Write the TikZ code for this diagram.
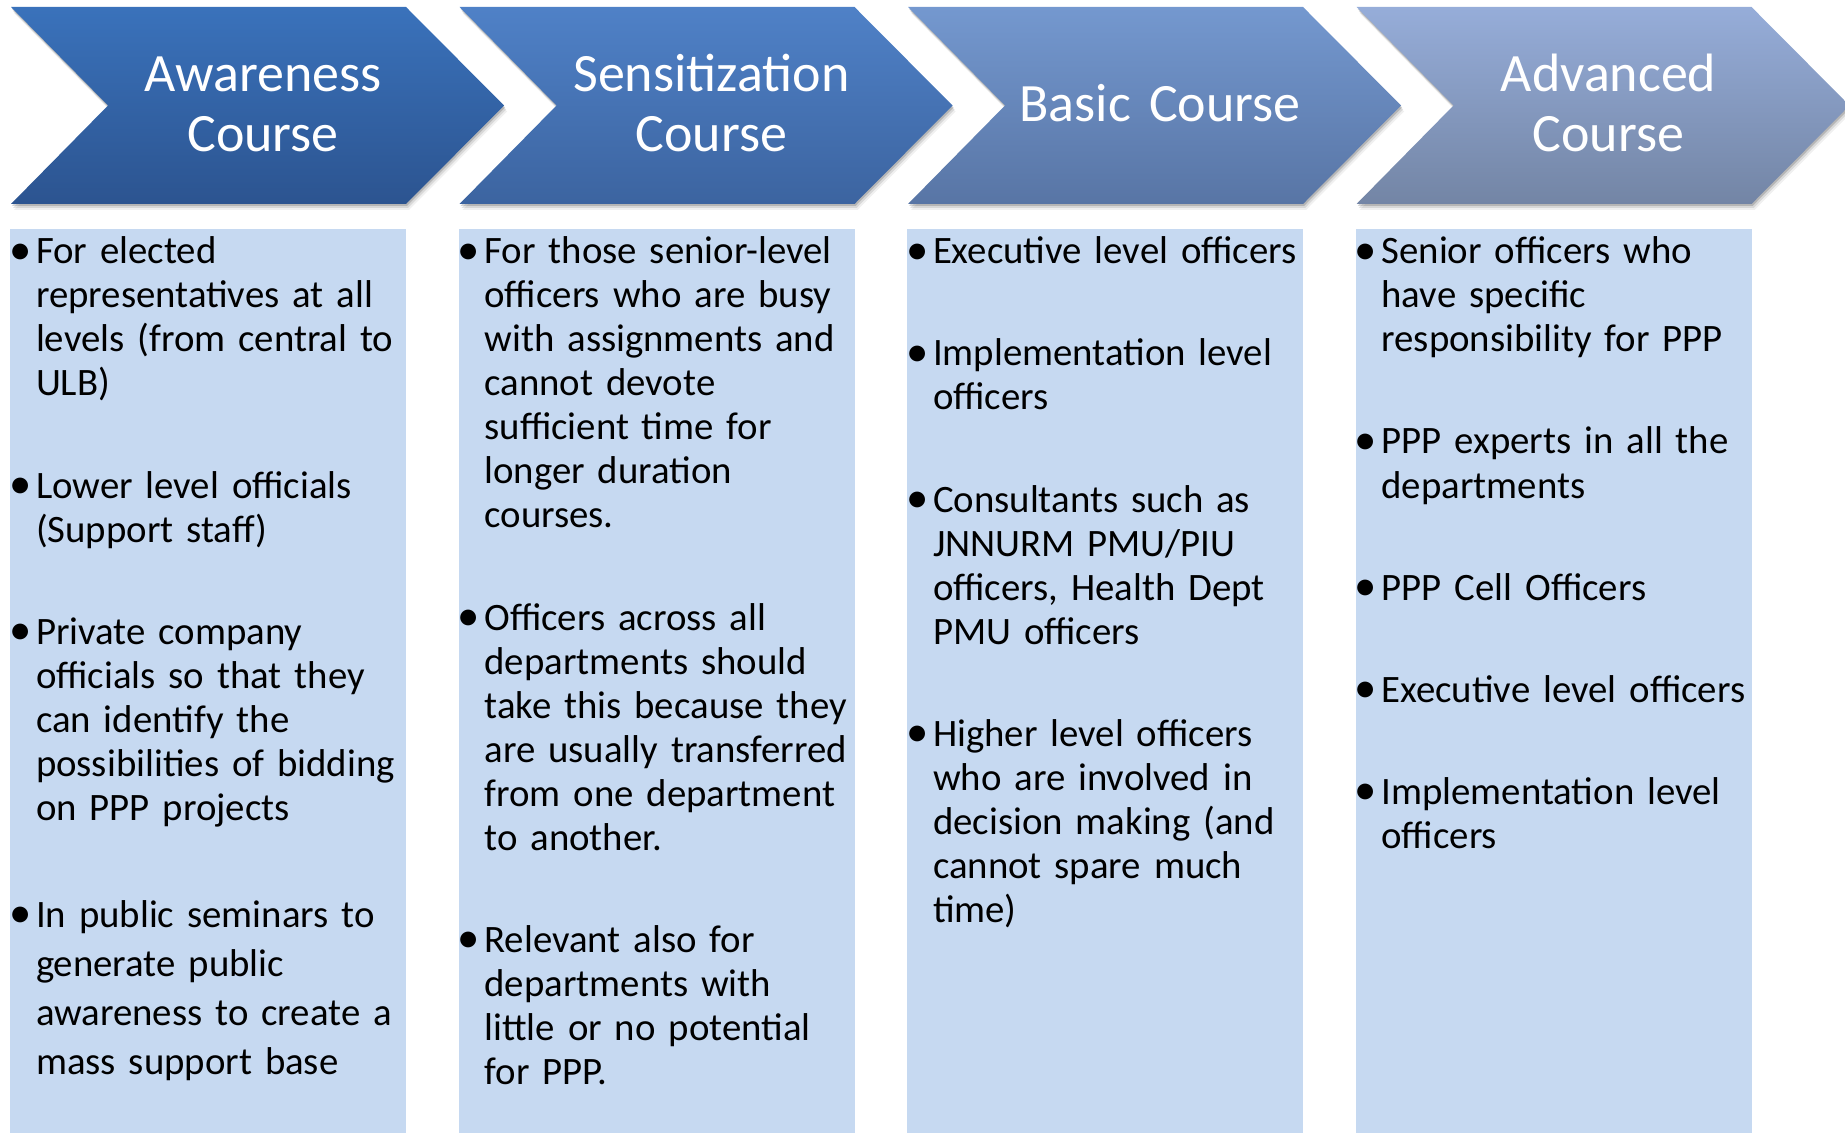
\documentclass[tikz,border=0pt]{standalone}
\usepackage{fontspec}
\setmainfont{Carlito}
\usetikzlibrary{positioning}
\definecolor{awtop}{HTML}{3A72BB}
\definecolor{awbot}{HTML}{2C5490}
\definecolor{setop}{HTML}{4F81C7}
\definecolor{sebot}{HTML}{3C64A0}
\definecolor{batop}{HTML}{7498CF}
\definecolor{babot}{HTML}{5875A5}
\definecolor{adtop}{HTML}{96ADD9}
\definecolor{adbot}{HTML}{7385A5}
\definecolor{pane}{HTML}{C6D9F1}
\newcommand{\dotitem}{\llap{\raisebox{-0.4pt}{\scalebox{1.15}{\textbullet}}\hspace{2.2pt}}}
\tikzset{
 course/.style={text=white,font=\fontsize{27}{30}\selectfont,text width=230pt,align=center,anchor=base,inner sep=0pt},
 entry/.style={font=\fontsize{19.4}{22}\selectfont,text width=200pt,align=left,anchor=base west,inner sep=0pt,outer sep=0pt},
 under/.style={below=29pt of #1.south west,anchor=north west},
}

\begin{document}
\begin{tikzpicture}[x=0.5pt,y=-0.5pt]
\path[use as bounding box,clip] (0,0) rectangle (1845,1133);
% chevrons and panes
\foreach \i/\ct/\cb/\yb/\hd in {0/awtop/awbot/92/{Awareness\\Course},1/setop/sebot/92/{Sensitization\\Course},2/batop/babot/122/{Basic Course},3/adtop/adbot/92/{Advanced\\Course}}{
 \begin{scope}[shift={(11+448.5*\i,0)}]
  \foreach \s/\o in {6/0.06,4/0.1,2/0.16}
   \fill[black,opacity=\o,shift={(\s/2,\s)}] (0,7) -- (395,7) -- (493,105.5) -- (395,204) -- (0,204) -- (97,105.5) -- cycle;
  \shade[top color=\ct,bottom color=\cb] (0,7) -- (395,7) -- (493,105.5) -- (395,204) -- (0,204) -- (97,105.5) -- cycle;
  \fill[pane] (-1,229) rectangle (395,1133);
  \node[course] (hd\i) at (252,\yb) {\hd};
 \end{scope}
}
% awareness
\node[entry] (a1) at (36,264) {\dotitem\strut For elected\\representatives at all\\levels (from central to\\ULB)\strut};
\node[entry,under=a1] (a2) {\dotitem\strut Lower level officials\\(Support staff)\strut};
\node[entry,under=a2] (a3) {\dotitem\strut Private company\\officials so that they\\can identify the\\possibilities of bidding\\on PPP projects\strut};
\node[entry,below=29.75pt of a3.south west,anchor=north west,font=\fontsize{19.4}{24.5}\selectfont] (a4) {\dotitem\strut In public seminars to\\generate public\\awareness to create a\\mass support base\strut};
% sensitization
\node[entry] (s1) at (484.5,264) {\dotitem\strut For those senior-level\\officers who are busy\\with assignments and\\cannot devote\\sufficient time for\\longer duration\\courses.\strut};
\node[entry,under=s1] (s2) {\dotitem\strut Officers across all\\departments should\\take this because they\\are usually transferred\\from one department\\to another.\strut};
\node[entry,under=s2] (s3) {\dotitem\strut Relevant also for\\departments with\\little or no potential\\for PPP.\strut};
% basic
\node[entry] (b1) at (933,264) {\dotitem\strut Executive level officers\strut};
\node[entry,under=b1] (b2) {\dotitem\strut Implementation level\\officers\strut};
\node[entry,under=b2] (b3) {\dotitem\strut Consultants such as\\JNNURM PMU/PIU\\officers, Health Dept\\PMU officers\strut};
\node[entry,under=b3] (b4) {\dotitem\strut Higher level officers\\who are involved in\\decision making (and\\cannot spare much\\time)\strut};
% advanced
\node[entry] (v1) at (1381.5,264) {\dotitem\strut Senior officers who\\have specific\\responsibility for PPP\strut};
\node[entry,under=v1] (v2) {\dotitem\strut PPP experts in all the\\departments\strut};
\node[entry,under=v2] (v3) {\dotitem\strut PPP Cell Officers\strut};
\node[entry,under=v3] (v4) {\dotitem\strut Executive level officers\strut};
\node[entry,under=v4] (v5) {\dotitem\strut Implementation level\\officers\strut};
\end{tikzpicture}
\end{document}
